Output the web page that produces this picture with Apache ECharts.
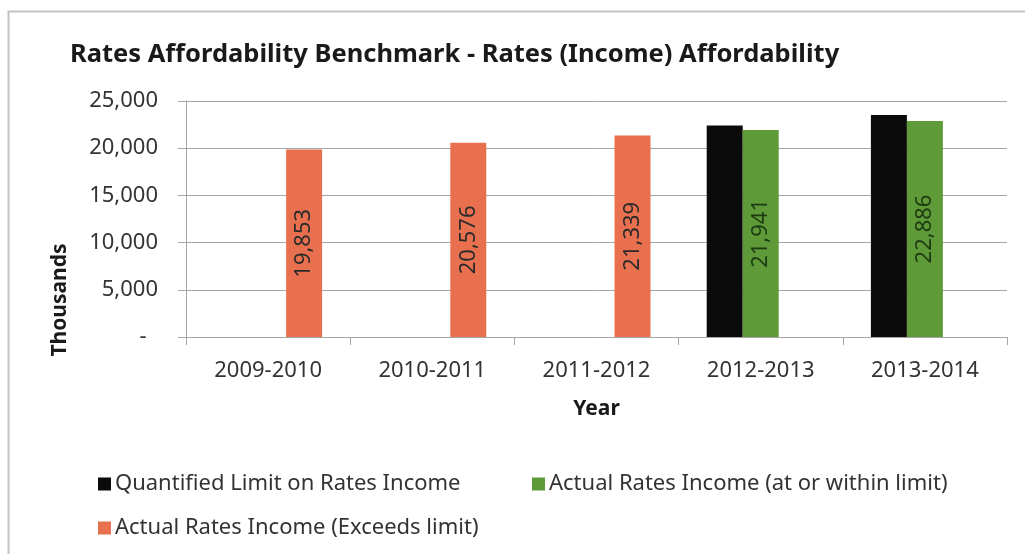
<!DOCTYPE html>
<html>
<head>
<meta charset="utf-8">
<script src="https://cdn.jsdelivr.net/npm/echarts@6/dist/echarts.min.js"></script>
<style>
  html, body { margin: 0; padding: 0; background: #ffffff; }
  #chart { width: 1025px; height: 554px; }
</style>
</head>
<body>
<div id="chart"></div>
<script>
// Financial years on the category axis
const years = ['2009-2010', '2010-2011', '2011-2012', '2012-2013', '2013-2014'];
// Quantified limit on rates income (thousands); no limit set before 2012-2013
const limitValues = [null, null, null, 22400, 23530];
// Actual rates income that stays at or within the limit (thousands)
const withinValues = [null, null, null, 21941, 22886];
// Actual rates income that exceeds the limit (thousands)
const exceedsValues = [19853, 20576, 21339, null, null];
// Value-axis ticks
const yTicks = [0, 5000, 10000, 15000, 20000, 25000];

const seriesNames = [
  'Quantified Limit on Rates Income',
  'Actual Rates Income (at or within limit)',
  'Actual Rates Income (Exceeds limit)'
];

const FONT = '"Noto Sans", "Open Sans", sans-serif';
const TXT = 22;
const fmt = v => v.toLocaleString('en-US');

const chart = echarts.init(document.getElementById('chart'), null, { renderer: 'canvas' });

const barLabel = color => ({
  show: true,
  position: 'inside',
  rotate: 90,
  color: color,
  fontFamily: FONT,
  fontSize: TXT,
  formatter: p => fmt(p.value)
});

const legendText = { fontFamily: FONT, fontSize: TXT, color: '#333333', padding: [0, 0, 0, -1] };

chart.setOption({
  backgroundColor: '#ffffff',
  animation: false,
  title: {
    text: 'Rates Affordability Benchmark - Rates (Income) Affordability',
    left: 65,
    top: 37,
    textStyle: { fontFamily: FONT, fontWeight: 'bold', fontSize: 25.5, color: '#1a1a1a' }
  },
  graphic: [
    {
      type: 'rect',
      shape: { x: 8.5, y: 11.5, width: 1100, height: 700 },
      style: { fill: 'none', stroke: '#c4c4c4', lineWidth: 2 },
      silent: true
    },
    {
      type: 'text',
      x: 60,
      y: 300,
      rotation: Math.PI / 2,
      style: {
        text: 'Thousands',
        fontFamily: FONT,
        fontWeight: 'bold',
        fontSize: 21,
        fill: '#1a1a1a',
        align: 'center',
        verticalAlign: 'middle'
      }
    }
  ],
  legend: [
    {
      left: 93, top: 468,
      data: [seriesNames[0]],
      itemWidth: 13, itemHeight: 13, itemGap: 0,
      icon: 'rect',
      textStyle: legendText
    },
    {
      left: 527, top: 468,
      data: [seriesNames[1]],
      itemWidth: 13, itemHeight: 13, itemGap: 0,
      icon: 'rect',
      textStyle: legendText
    },
    {
      left: 93, top: 512,
      data: [seriesNames[2]],
      itemWidth: 13, itemHeight: 13, itemGap: 0,
      icon: 'rect',
      textStyle: legendText
    }
  ],
  grid: { left: 186, right: 18, top: 101, bottom: 217, containLabel: false },
  xAxis: {
    type: 'category',
    data: years,
    name: 'Year',
    nameLocation: 'middle',
    nameGap: 62,
    nameTextStyle: { fontFamily: FONT, fontWeight: 'bold', fontSize: 21, color: '#1a1a1a' },
    axisLine: { lineStyle: { color: '#a6a6a6', width: 1 } },
    axisTick: { show: true, length: 8, lineStyle: { color: '#a6a6a6' } },
    axisLabel: { fontFamily: FONT, fontSize: TXT, color: '#333333', margin: 23 }
  },
  yAxis: {
    type: 'value',
    min: yTicks[0],
    max: yTicks[yTicks.length - 1],
    interval: yTicks[1] - yTicks[0],
    axisLine: { show: true, lineStyle: { color: '#a6a6a6', width: 1 } },
    axisTick: { show: true, length: 8, lineStyle: { color: '#a6a6a6' } },
    splitLine: { lineStyle: { color: '#a6a6a6', width: 1 } },
    axisLabel: {
      fontFamily: FONT, fontSize: TXT, color: '#333333', margin: 28,
      formatter: v => (v === 0 ? '-  ' : fmt(v))
    }
  },
  series: [
    {
      name: seriesNames[0],
      type: 'bar',
      data: limitValues,
      barWidth: 36,
      barGap: '0%',
      itemStyle: { color: '#0b0b0b' }
    },
    {
      name: seriesNames[1],
      type: 'bar',
      data: withinValues,
      barWidth: 36,
      barGap: '0%',
      itemStyle: { color: '#5f9a38' },
      label: barLabel('#1d3a12')
    },
    {
      name: seriesNames[2],
      type: 'bar',
      data: exceedsValues,
      barWidth: 36,
      barGap: '0%',
      itemStyle: { color: '#e8704f' },
      label: barLabel('#2a2a2a')
    }
  ]
});
</script>
</body>
</html>
